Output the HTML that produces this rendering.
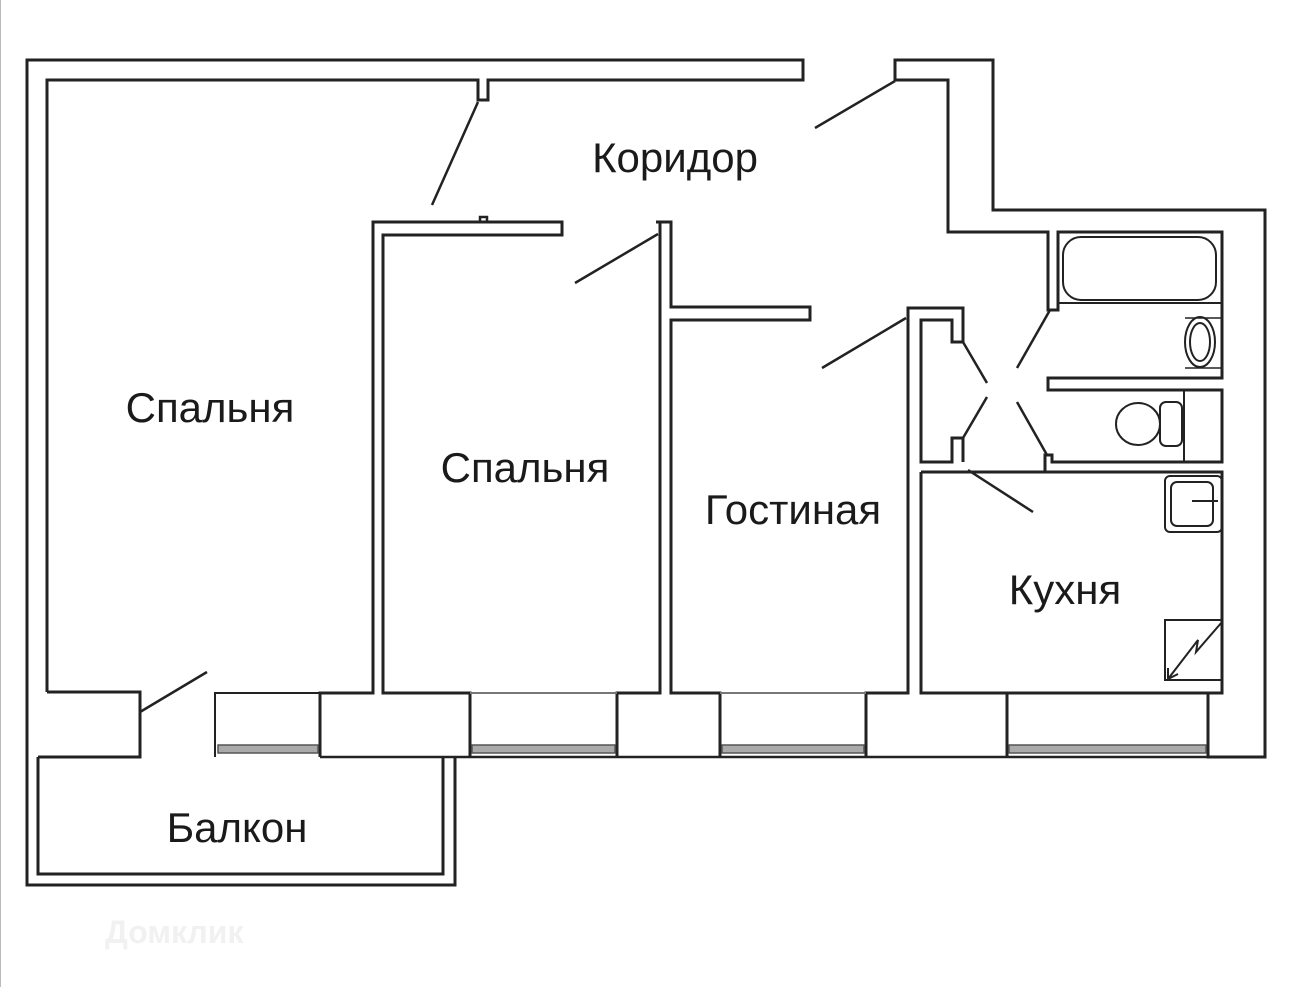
<!DOCTYPE html>
<html><head><meta charset="utf-8"><style>
html,body{margin:0;padding:0;background:#fff;}
svg{display:block;}
text{font-family:"Liberation Sans",sans-serif;fill:#1a1a1a;}
</style></head><body>
<svg width="1290" height="987" viewBox="0 0 1290 987" xmlns="http://www.w3.org/2000/svg">
<line x1="0.5" y1="0" x2="0.5" y2="987" stroke="#bbb" stroke-width="1"/>
<g fill="none" stroke="#222" stroke-width="3" stroke-linejoin="miter">
<polyline points="803,78 803,60 27,60 27,885 455,885 455,757"/>
<polyline points="47,692 47,80 478,80 478,100 488,100 488,80 803,80 803,78"/>
<polyline points="47,692 140,692 140,757 38,757"/>
<polyline points="38,757 38,874 443,874 443,757"/>
<line x1="320" y1="757" x2="1265" y2="757" stroke-width="2.5"/>
<polyline points="320,757 320,693 373,693 373,222 562,222 562,235 383,235 383,693 470,693 470,757"/>
<polyline points="617,757 617,693 660,693 660,222 656,222"/>
<polyline points="656,222 665,222 671,222 671,307 810,307 810,320 671,320 671,693 720,693 720,757"/>
<polyline points="866,757 866,693 908,693 908,308 963,308 963,342 952,342 952,320 921,320 921,462 952,462 952,438 963,438 963,462"/>
<polyline points="921,472 921,693 1007,693"/>
<polyline points="1007,757 1007,693 1222,693 1222,472 1045,472 1045,455 1052,455 1052,462 1222,462 1222,390 1048,390 1048,378 1222,378 1222,232 1058,232 1058,310 1048,310 1048,232 948,232 948,80 895,80 895,60 993,60 993,210 1265,210 1265,757 1208,757 1208,693 1222,693"/>
<line x1="921" y1="472" x2="1045" y2="472"/>
<polyline points="480,222 480,217 487,217 487,222" stroke-width="2.5"/>
<g stroke-width="2">
<polyline points="215,757 215,693 320,693"/>
<polyline points="470,693 617,693" stroke="#777"/>
<polyline points="720,693 866,693" stroke="#777"/>
</g>
<g stroke-width="2.5">
<line x1="140" y1="712" x2="207" y2="672"/>
<line x1="478" y1="102" x2="432" y2="205"/>
<line x1="658" y1="234" x2="575" y2="283"/>
<line x1="895" y1="81" x2="815" y2="128"/>
<line x1="906" y1="318" x2="822" y2="368"/>
<line x1="963" y1="342" x2="987" y2="383"/>
<line x1="987" y1="397" x2="963" y2="438"/>
<line x1="1050" y1="310" x2="1017" y2="368"/>
<line x1="1017" y1="402" x2="1047" y2="455"/>
<line x1="968" y1="470" x2="1033" y2="512"/>
</g>
<g stroke-width="2">
<rect x="1063" y="237" width="153" height="63" rx="18"/>
<line x1="1058" y1="303" x2="1222" y2="303"/>
<ellipse cx="1200" cy="342" rx="15" ry="25"/>
<ellipse cx="1200" cy="342" rx="10" ry="19"/>
<path d="M1185,318 L1222,318 M1185,368 L1222,368" stroke-width="1.5"/>
<ellipse cx="1138" cy="424" rx="22" ry="21"/>
<rect x="1160" y="402" width="22" height="44" rx="6"/>
<line x1="1184" y1="390" x2="1184" y2="462"/>
<rect x="1165" y="476" width="57" height="56" rx="5"/>
<rect x="1171" y="482" width="42" height="44" rx="6"/>
<line x1="1192" y1="501" x2="1218" y2="501"/>
<rect x="1165" y="620" width="57" height="60"/>
<polyline points="1222,622 1196,652 1198,640 1168,679"/>
<polyline points="1168,668 1168,679 1178,674"/>
</g>
</g>
<g fill="#aaa" stroke="#555" stroke-width="1.5">
<rect x="218" y="745" width="100" height="8"/>
<rect x="472" y="745" width="143" height="8"/>
<rect x="722" y="745" width="142" height="8"/>
<rect x="1009" y="745" width="197" height="8"/>
</g>
<g font-size="42">
<text x="675" y="172" text-anchor="middle">Коридор</text>
<text x="210" y="422" text-anchor="middle">Спальня</text>
<text x="525" y="482" text-anchor="middle">Спальня</text>
<text x="793" y="524" text-anchor="middle">Гостиная</text>
<text x="1065" y="604" text-anchor="middle">Кухня</text>
<text x="237" y="842" text-anchor="middle">Балкон</text>
</g>
<text x="105" y="943" font-size="32" font-weight="bold" style="fill:#f1f1f1">Домклик</text>
</svg>
</body></html>
